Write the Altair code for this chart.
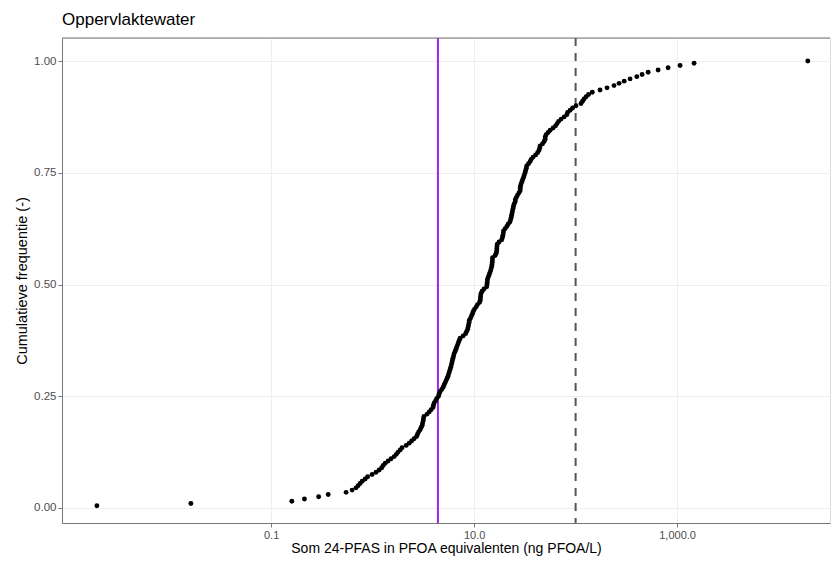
import altair as alt
import pandas as pd

# Som 24-PFAS in PFOA-equivalenten (ng PFOA/L)
pfas_values = [
    0.00192, 0.0162, 0.160, 0.213, 0.294, 0.365, 0.548, 0.628, 0.687, 0.719,
    0.753, 0.788, 0.844, 0.893, 0.989, 1.08, 1.16, 1.23, 1.27, 1.33,
    1.42, 1.52, 1.63, 1.71, 1.78, 1.87, 1.95, 2.14, 2.29, 2.42,
    2.56, 2.71, 2.77, 2.84, 2.94, 3.01, 3.08, 3.11, 3.15, 3.17,
    3.21, 3.44, 3.61, 3.77, 3.94, 3.97, 4.04, 4.18, 4.29, 4.45,
    4.52, 4.62, 4.79, 4.95, 5.06, 5.18, 5.30, 5.42, 5.52, 5.61,
    5.71, 5.80, 5.89, 5.97, 6.04, 6.11, 6.19, 6.28, 6.35, 6.50,
    6.62, 6.74, 6.88, 7.00, 7.14, 7.28, 7.80, 8.24, 8.44, 8.63,
    8.73, 8.83, 8.93, 8.97, 9.24, 9.44, 9.66, 9.82, 10.1, 10.5,
    10.8, 11.3, 11.5, 11.55, 11.6, 11.7, 12.0, 12.5, 13.3, 13.4,
    13.45, 13.5, 13.7, 14.0, 14.2, 14.5, 14.7, 14.9, 15.0, 15.1,
    15.15, 15.2, 16.1, 16.5, 16.7, 16.75, 16.8, 16.9, 17.6, 18.7,
    19.0, 19.2, 19.4, 19.5, 20.2, 21.0, 21.6, 22.5, 22.9, 23.2,
    23.4, 23.7, 23.9, 24.2, 24.4, 24.8, 25.4, 25.5, 26.1, 26.8,
    27.7, 28.4, 28.5, 28.6, 29.0, 29.6, 30.1, 30.7, 31.2, 31.8,
    32.2, 32.7, 33.0, 34.4, 35.6, 36.5, 38.1, 40.4, 42.2, 43.5,
    44.2, 44.7, 47.3, 49.0, 50.1, 50.2, 51.2, 53.6, 56.1, 60.0,
    63.5, 65.7, 68.0, 72.0, 77.1, 81.9, 83.4, 88.3, 93.4, 101,
    113, 117, 121, 127, 134, 146, 174, 204, 239, 268,
    301, 344, 401, 452, 518, 650, 815, 1070, 1470, 19400,
]
purple_limit = [4.4]
dashed_limit = [100]

x_ticks = [0.1, 10, 1000]
y_ticks = [0, 0.25, 0.5, 0.75, 1.0]

FONT = "Liberation Sans"
FRAME = "#777777"
W, H = 768, 485

vals = sorted(pfas_values)
n = len(vals)
df = pd.DataFrame({"pfas": vals, "freq": [(i + 1) / n for i in range(n)]})

xscale = alt.Scale(type="log", domain=[0.00087, 32100], nice=False)
yscale = alt.Scale(domain=[-0.0336, 1.0515], nice=False, zero=False)

xaxis = alt.Axis(
    values=x_ticks, format=",.1f", title="Som 24-PFAS in PFOA equivalenten (ng PFOA/L)",
    grid=True, gridColor="#EEEEEE", domain=True, domainColor=FRAME,
    tickColor=FRAME, tickSize=4,
    labelFontSize=11, labelColor="#4D4D4D", labelFont=FONT, labelPadding=2,
    titleFontSize=14, titleColor="black", titleFont=FONT, titleFontWeight="normal",
    titlePadding=1,
)
yaxis = alt.Axis(
    values=y_ticks, format=".2f", title="Cumulatieve frequentie (-)",
    grid=True, gridColor="#EEEEEE", domain=True, domainColor=FRAME,
    tickColor=FRAME, tickSize=4,
    labelFontSize=11.5, labelColor="#4D4D4D", labelFont=FONT, labelPadding=2,
    titleFontSize=14.5, titleColor="black", titleFont=FONT, titleFontWeight="normal",
    titlePadding=4,
)

points = alt.Chart(df).mark_circle(color="black", size=24, opacity=1).encode(
    x=alt.X("pfas:Q", scale=xscale, axis=xaxis),
    y=alt.Y("freq:Q", scale=yscale, axis=yaxis),
)

purple = alt.Chart(pd.DataFrame({"v": purple_limit})).mark_rule(
    color="#A020F0", strokeWidth=2
).encode(x=alt.X("v:Q", scale=xscale))

dashed = alt.Chart(pd.DataFrame({"v": dashed_limit})).mark_rule(
    color="#555555", strokeWidth=2, strokeDash=[8, 7]
).encode(x=alt.X("v:Q", scale=xscale))

# top edge of the panel frame (the right edge lies outside the reference crop)
top_frame = alt.Chart(pd.DataFrame({"edge": ["top"]})).mark_rule(
    color=FRAME, strokeWidth=1
).encode(x=alt.value(0), x2=alt.value(W), y=alt.value(0))

chart = alt.layer(purple, dashed, points, top_frame).properties(
    width=W,
    height=H,
    autosize=alt.AutoSizeParams(type="none"),
    padding={"left": 54, "top": 30, "right": 2, "bottom": 33},
    title=alt.Title(
        "Oppervlaktewater", anchor="start", frame="group", fontSize=17,
        font=FONT, fontWeight="normal", color="black", offset=8,
    ),
).configure_view(stroke=None).configure(background="white")

chart.save("out.html", embed_options={"renderer": "svg", "actions": False})
